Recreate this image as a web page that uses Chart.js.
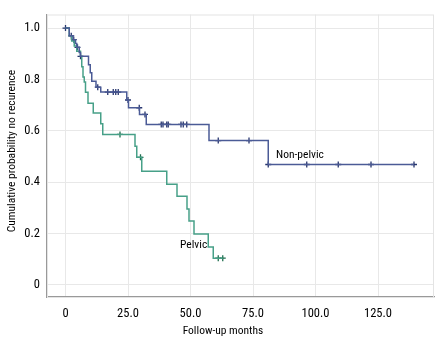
<!DOCTYPE html>
<html lang="en">
<head>
  <meta charset="UTF-8">
  <title>Cumulative probability no recurrence</title>
  <script src="https://cdn.jsdelivr.net/npm/chart.js"></script>
  <style>
    html, body { margin: 0; padding: 0; background: #fff; }
    #wrap { width: 444px; height: 347px; }
  </style>
</head>
<body>
  <div id="wrap"><canvas id="km" width="444" height="347"></canvas></div>

  <script>
    // Kaplan-Meier steps (month, probability after the step)
    const nonPelvicTime = [0, 1.5, 3.0, 4.0, 4.5, 5.5, 6.0, 9.2, 9.9, 10.5, 12.2, 14.1, 24.5, 25.2, 29.6, 32.3, 57.4, 81.1, 139.4];
    const nonPelvicProb = [1.0, 0.97, 0.955, 0.94, 0.925, 0.905, 0.89, 0.857, 0.826, 0.793, 0.77, 0.751, 0.72, 0.69, 0.664, 0.625, 0.562, 0.469, 0.469];
    const nonPelvicCensTime = [0, 2.3, 3.3, 4.8, 6.0, 12.9, 16.9, 19.1, 20.1, 21.1, 25.0, 29.5, 31.8, 38.3, 39.0, 40.5, 41.1, 46.2, 47.1, 48.5, 61.1, 73.4, 81.1, 96.5, 109.1, 122.2, 139.4];
    const nonPelvicCensProb = [1.0, 0.97, 0.955, 0.925, 0.89, 0.77, 0.751, 0.751, 0.751, 0.751, 0.72, 0.69, 0.664, 0.625, 0.625, 0.625, 0.625, 0.625, 0.625, 0.625, 0.562, 0.562, 0.469, 0.469, 0.469, 0.469, 0.469];

    const pelvicTime = [0, 1.5, 2.5, 3.5, 4.5, 6.0, 6.5, 7.0, 7.5, 8.0, 9.0, 11.1, 14.1, 14.9, 27.8, 28.5, 30.5, 40.5, 44.6, 48.6, 49.4, 51.4, 57.1, 59.1, 62.9];
    const pelvicProb = [1.0, 0.97, 0.95, 0.93, 0.91, 0.89, 0.85, 0.81, 0.79, 0.75, 0.707, 0.669, 0.628, 0.586, 0.54, 0.497, 0.443, 0.392, 0.345, 0.296, 0.249, 0.198, 0.148, 0.104, 0.104];
    const pelvicCensTime = [21.8, 30.0, 61.1, 62.9];
    const pelvicCensProb = [0.586, 0.497, 0.104, 0.104];

    const xTicks = [0, 25, 50, 75, 100, 125];
    const yTicks = [0, 0.2, 0.4, 0.6, 0.8, 1.0];

    const groupLabels = [
      { text: 'Non-pelvic', x: 84.2, y: 0.506 },
      { text: 'Pelvic', x: 45.8, y: 0.155 }
    ];

    const FONT = "'Roboto Condensed', 'DejaVu Sans Condensed', Arial, sans-serif";
    const toXY = (xs, ys) => xs.map((x, i) => ({ x: x, y: ys[i] }));

    // text labels, frame and axis titles
    const extras = {
      id: 'extras',
      beforeDatasetsDraw(chart) {
        const { ctx, chartArea: a } = chart;
        ctx.save();
        ctx.strokeStyle = '#e4e4e4';
        ctx.lineWidth = 1;
        ctx.strokeRect(a.left + 0.5, a.top + 0.5, a.right - a.left - 1, a.bottom - a.top);
        ctx.restore();
      },
      afterDraw(chart) {
        const { ctx, scales } = chart;
        ctx.save();
        ctx.fillStyle = '#000';
        ctx.font = '11.5px ' + FONT;
        ctx.textBaseline = 'middle';
        ctx.textAlign = 'left';
        groupLabels.forEach(l => {
          ctx.fillText(l.text, scales.x.getPixelForValue(l.x), scales.y.getPixelForValue(l.y));
        });
        ctx.textAlign = 'center';
        ctx.fillText('Follow-up months', 223, 331);
        ctx.translate(12, 151);
        ctx.rotate(-Math.PI / 2);
        ctx.fillText('Cumulative probability no recurence', 0, 0);
        ctx.restore();
      }
    };

    new Chart(document.getElementById('km'), {
      type: 'line',
      data: {
        datasets: [
          {
            label: 'Non-pelvic',
            data: toXY(nonPelvicTime, nonPelvicProb),
            borderColor: '#4b5b96',
            borderWidth: 1.5,
            stepped: true,
            pointRadius: 0,
            fill: false
          },
          {
            label: 'Pelvic',
            data: toXY(pelvicTime, pelvicProb),
            borderColor: '#47a088',
            borderWidth: 1.5,
            stepped: true,
            pointRadius: 0,
            fill: false
          },
          {
            label: 'Non-pelvic censored',
            type: 'scatter',
            data: toXY(nonPelvicCensTime, nonPelvicCensProb),
            pointStyle: 'cross',
            pointRadius: 3,
            borderColor: '#27356e',
            borderWidth: 1.3,
            showLine: false
          },
          {
            label: 'Pelvic censored',
            type: 'scatter',
            data: toXY(pelvicCensTime, pelvicCensProb),
            pointStyle: 'cross',
            pointRadius: 3,
            borderColor: '#1f6e4e',
            borderWidth: 1.3,
            showLine: false
          }
        ]
      },
      options: {
        responsive: false,
        animation: false,
        layout: { padding: { left: 0, right: 10, top: 9, bottom: 0 } },
        plugins: {
          legend: { display: false },
          tooltip: { enabled: false }
        },
        scales: {
          x: {
            type: 'linear',
            min: -7.4,
            max: 147.4,
            afterBuildTicks: s => { s.ticks = xTicks.map(v => ({ value: v })); },
            afterFit: s => { s.height = 50; },
            grid: { color: '#e8e8e8', drawTicks: false },
            border: { color: '#999', width: 1.2 },
            ticks: {
              padding: 9,
              color: '#000',
              font: { family: FONT, size: 12.5 },
              callback: v => v === 0 ? '0' : v.toFixed(1)
            }
          },
          y: {
            min: -0.047,
            max: 1.053,
            afterBuildTicks: s => { s.ticks = yTicks.map(v => ({ value: v })); },
            afterFit: s => { s.width = 47; },
            grid: { color: '#e8e8e8', drawTicks: false },
            border: { color: '#999', width: 1.2 },
            ticks: {
              padding: 7,
              color: '#000',
              font: { family: FONT, size: 12.5 },
              callback: v => v === 0 ? '0' : v.toFixed(1)
            }
          }
        }
      },
      plugins: [extras]
    });
  </script>
</body>
</html>
